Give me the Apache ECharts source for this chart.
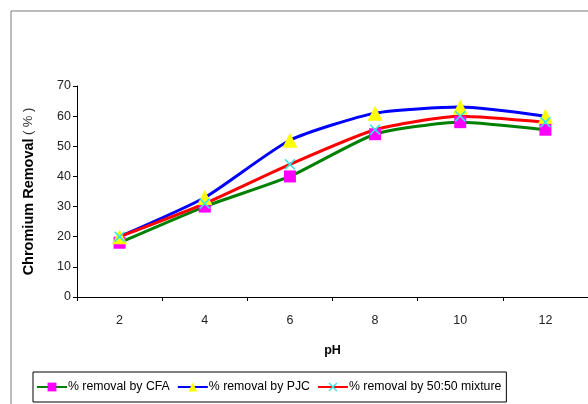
<!DOCTYPE html>
<html>
<head>
<meta charset="utf-8">
<script src="https://cdn.jsdelivr.net/npm/echarts@6/dist/echarts.min.js"></script>
<style>
  html, body { margin: 0; padding: 0; background: #fff; }
  #chart { width: 588px; height: 404px; }
</style>
</head>
<body>
<div id="chart"></div>
<script>
// pH values on the x axis
const phLabels = ['2', '4', '6', '8', '10', '12'];

// % removal
const cfaValues = [18, 30, 40, 54, 58, 55.5];
const pjcValues = [20, 33, 52, 61, 63, 60];
const mixValues = [20, 31, 44, 55.5, 60, 58];

const seriesNames = ['% removal by CFA', '% removal by PJC', '% removal by 50:50 mixture'];

const font = '"Liberation Sans", Arial, sans-serif';
// thin X marker like the excel one
const crossPath = 'path://M0,1L1,0L5,4L9,0L10,1L6,5L10,9L9,10L5,6L1,10L0,9L4,5Z';

const myChart = echarts.init(document.getElementById('chart'));

const lineSeries = (name, data, lineColor, symbol, symbolColor, size) => ({
  name,
  type: 'line',
  data,
  smooth: 0.2,
  symbol,
  symbolSize: size,
  lineStyle: { color: lineColor, width: 3 },
  itemStyle: { color: symbolColor, borderWidth: 0 },
  emphasis: { disabled: true },
});

const option = {
  animation: false,
  textStyle: { fontFamily: font },
  graphic: [
    {
      type: 'rect',
      shape: { x: 11, y: 11, width: 620, height: 420 },
      style: { fill: 'none', stroke: '#7a7a7a', lineWidth: 1 },
      silent: true,
      z: -10,
    },
  ],
  grid: { left: 77, top: 86, width: 512, height: 211 },
  legend: {
    left: 33,
    top: 372,
    padding: [9, 5, 9, 3],
    itemGap: 7,
    itemWidth: 30,
    itemHeight: 11,
    borderColor: '#000',
    borderWidth: 1,
    textStyle: { fontFamily: font, fontSize: 12.3, color: '#000', padding: [0, 0, 0, -4] },
    data: seriesNames,
  },
  xAxis: {
    type: 'category',
    data: phLabels,
    boundaryGap: true,
    name: 'pH',
    nameLocation: 'middle',
    nameGap: 47,
    nameTextStyle: { fontFamily: font, fontSize: 12.5, fontWeight: 'bold', color: '#000' },
    axisLine: { lineStyle: { color: '#000', width: 1 } },
    axisTick: { show: true, length: 4, lineStyle: { color: '#000' } },
    axisLabel: { fontFamily: font, fontSize: 12.5, color: '#222', margin: 17 },
    splitLine: { show: false },
  },
  yAxis: {
    type: 'value',
    min: 0,
    max: 70,
    interval: 10,
    name: '{b|Chromium Removal} {n|( % )}',
    nameLocation: 'middle',
    nameGap: 41,
    nameRotate: 90,
    nameTextStyle: {
      fontFamily: font,
      color: '#000',
      rich: {
        b: { fontFamily: font, fontSize: 14.5, fontWeight: 'bold', color: '#000' },
        n: { fontFamily: font, fontSize: 13, color: '#333' },
      },
    },
    axisLine: { show: true, lineStyle: { color: '#000', width: 1 } },
    axisTick: { show: true, inside: false, length: 4, lineStyle: { color: '#000' } },
    axisLabel: { fontFamily: font, fontSize: 12.5, color: '#222', margin: 6 },
    splitLine: { show: false },
  },
  series: [
    lineSeries(seriesNames[0], cfaValues, '#008000', 'rect', '#ff00ff', 12),
    lineSeries(seriesNames[1], pjcValues, '#0000ff', 'triangle', '#ffff00', 15),
    lineSeries(seriesNames[2], mixValues, '#ff0000', crossPath, '#33e6e6', 11),
  ],
};

myChart.setOption(option);
</script>
</body>
</html>
